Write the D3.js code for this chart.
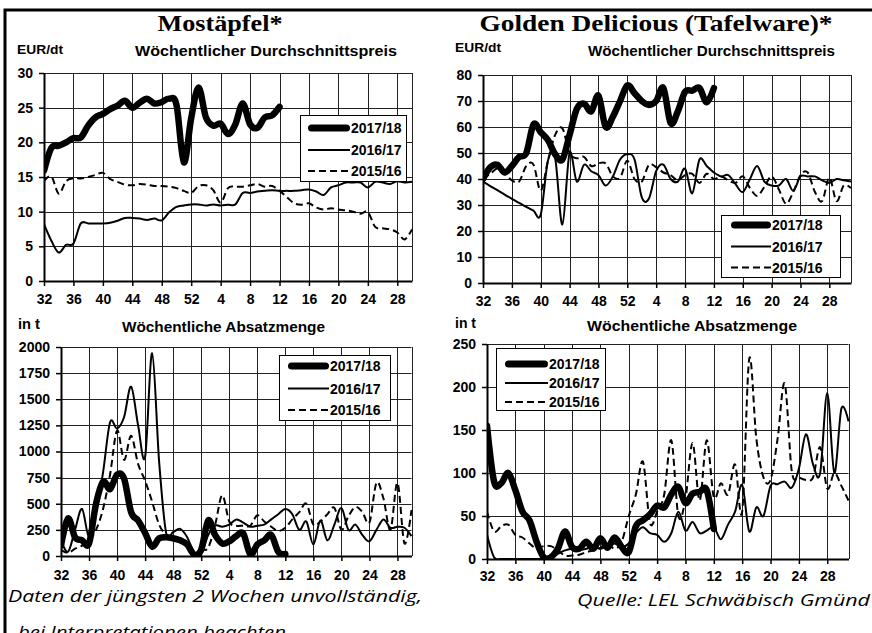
<!DOCTYPE html>
<html>
<head>
<meta charset="utf-8">
<script src="https://cdn.jsdelivr.net/npm/d3@7"></script>
<style>
body{margin:0;background:#fff;}
svg text{font-family:"Liberation Sans",Arial,sans-serif;}
</style>
</head>
<body>
<svg id="chart" width="872" height="633"></svg>
<script>
// weeks on the x axis (left panels to week 30, right panels to week 31)
var weeksLeft = [32,33,34,35,36,37,38,39,40,41,42,43,44,45,46,47,48,49,50,51,52,1,2,3,4,5,6,7,8,9,10,11,12,13,14,15,16,17,18,19,20,21,22,23,24,25,26,27,28,29,30];
var weeksRight = [32,33,34,35,36,37,38,39,40,41,42,43,44,45,46,47,48,49,50,51,52,1,2,3,4,5,6,7,8,9,10,11,12,13,14,15,16,17,18,19,20,21,22,23,24,25,26,27,28,29,30,31];
var seasons = ["2017/18","2016/17","2015/16"];

// Mostäpfel, Wöchentlicher Durchschnittspreis (EUR/dt)
var mostPreis1718 = [15.9,19.2,19.5,20.0,20.6,20.7,22.4,23.6,24.1,24.8,25.3,26.0,25.0,25.7,26.3,25.6,25.8,26.3,25.4,17.1,23.5,27.9,23.6,22.4,22.7,21.2,22.6,25.6,22.6,22.1,23.6,23.9,25.1];
var mostPreis1617 = [8.2,5.8,4.1,5.2,5.4,8.3,8.3,8.3,8.3,8.4,8.7,9.1,9.1,9.0,8.8,9.0,8.75,9.9,10.7,10.9,11.05,11.05,10.9,11.05,10.9,11.0,11.05,12.7,12.7,12.9,13.0,13.1,13.0,13.0,13.0,13.1,13.2,12.9,12.4,13.5,13.8,14.2,14.2,14.2,13.5,14.3,14.2,14.0,14.4,14.2,14.3];
var mostPreis1516 = [14.4,15.1,12.6,14.4,14.8,14.8,15.0,15.3,15.6,14.7,14.3,13.9,13.8,14.0,13.9,13.7,13.7,13.6,13.4,13.0,12.7,13.7,13.8,13.1,11.3,13.4,13.6,13.6,13.8,14.0,13.6,13.7,13.0,12.1,11.2,11.0,11.2,10.6,10.3,10.5,10.3,10.2,10.0,9.7,9.95,7.8,7.6,7.45,7.0,6.0,7.45];

// Golden Delicious, Wöchentlicher Durchschnittspreis (EUR/dt)
var goldPreis1718 = [40,44.5,45.5,42.5,45,48.5,50,61,58,55,49.5,47.5,57,67,69,66,72,60,64,70,76,73,70,68.5,70,75,61.5,66,73.5,74,75,69.5,75];
var goldPreis1617 = [39,37.3,35.7,34,32.4,30.8,29.3,27.8,26.3,47,48,22.5,50,39,45.5,43,41.5,37.5,41,47.5,49.5,47.5,33,32.5,43,45.5,40,39,44,34.5,47.5,45,42.5,41,41.5,38,35,40,45,39,37.5,37.5,40,35.5,41,41,41,39.5,38.5,40,39.5,39];
var goldPreis1516 = [40,42,44,42,39.5,39,45,45.5,35.5,47,57,59.5,50,48,48.5,45,46,46,41,40.5,47,40,39,45.5,44.5,42.5,41.5,39.5,41.5,42,38.5,42,40,41,39.5,38.5,41,36.5,33.5,37,41,36,30.5,35,41.5,42.5,35,31.5,40.5,31.5,37.5,36.5];

// Mostäpfel, Wöchentliche Absatzmenge (t)
var mostMenge1718 = [100,360,180,150,120,500,710,640,780,740,420,340,220,90,170,180,170,150,110,15,60,340,200,120,140,190,215,15,110,150,200,40,20];
var mostMenge1617 = [150,40,250,450,180,420,800,1280,1220,1330,1620,1250,950,1940,900,220,230,260,180,30,20,200,290,280,300,350,320,280,290,300,350,400,450,400,250,330,110,340,150,300,460,250,300,200,140,250,350,270,280,270,190];
var mostMenge1516 = [60,30,70,100,150,250,450,780,1200,920,1150,880,720,520,300,200,150,160,120,30,60,80,300,580,330,290,290,290,390,330,280,240,270,350,420,500,300,330,400,460,250,380,470,420,320,700,550,250,700,120,440];

// Golden Delicious, Wöchentliche Absatzmenge (t)
var goldMenge1718 = [155,90,88,100,80,55,45,20,2,2,12,32,14,12,20,12,24,13,25,14,8,38,45,52,62,60,75,84,65,76,78,80,35];
var goldMenge1617 = [28,2,0,0,0,0,0,0,0,2,6,10,12,10,12,14,12,15,18,14,18,30,37,30,28,20,30,55,33,43,30,33,37,23,40,55,86,32,60,50,85,87,90,83,105,145,110,100,193,100,175,160];
var goldMenge1516 = [55,32,38,40,28,25,18,12,15,15,10,4,4,5,8,10,13,18,12,20,50,75,113,42,55,75,138,50,70,135,68,138,72,88,75,110,55,233,140,95,92,140,204,102,95,92,95,130,82,100,85,68];

var svg = d3.select("#chart");

// outer frame (cut at right and bottom like the original)
svg.append("rect")
	.attr("x", 5).attr("y", 10)
	.attr("width", 920).attr("height", 700)
	.attr("fill", "none").attr("stroke", "#000").attr("stroke-width", 3);

var styles = [
	{w: 6.5, dash: null},
	{w: 2, dash: null},
	{w: 2, dash: "7,4"}
];

function bold(sel, size){
	sel.attr("font-family", "Liberation Sans, Arial, sans-serif")
		.attr("font-weight", "bold")
		.attr("font-size", size)
		.style("font-weight", "700")
		.style("font-size", size + "px");
	return sel;
}

function panel(o){
	var g = svg.append("g");
	var x = d3.scaleLinear().domain([0, o.xMax]).range([o.x0, o.x1]);
	var y = d3.scaleLinear().domain([0, o.yMax]).range([o.y1, o.y0]);
	var yTicks = d3.range(0, o.yMax + o.yStep / 2, o.yStep);
	var xTicks = d3.range(0, o.xMax - 1, 4);

	// grid
	g.selectAll(".hg").data(yTicks.slice(1)).enter().append("line")
		.attr("x1", o.x0).attr("x2", x(o.xMax))
		.attr("y1", function(d){ return Math.round(y(d)) + 0.5; })
		.attr("y2", function(d){ return Math.round(y(d)) + 0.5; })
		.attr("stroke", "#222").attr("stroke-width", 1);
	g.selectAll(".vg").data(xTicks.slice(1).concat([o.xMax])).enter().append("line")
		.attr("x1", function(d){ return Math.round(x(d)) + 0.5; })
		.attr("x2", function(d){ return Math.round(x(d)) + 0.5; })
		.attr("y1", y(o.yMax)).attr("y2", y(0))
		.attr("stroke", "#222").attr("stroke-width", 1);

	// series
	g.append("clipPath").attr("id", o.id)
		.append("rect")
		.attr("x", o.x0).attr("y", o.y0 - 1)
		.attr("width", o.x1 - o.x0 + 1).attr("height", o.y1 - o.y0 + 1);

	var line = d3.line()
		.x(function(d, i){ return x(i); })
		.y(function(d){ return y(d); })
		.curve(d3.curveCardinal.tension(0));

	[2, 1, 0].forEach(function(k){
		g.append("path")
			.datum(o.series[k])
			.attr("clip-path", "url(#" + o.id + ")")
			.attr("d", line)
			.attr("fill", "none")
			.attr("stroke", "#000")
			.attr("stroke-width", styles[k].w)
			.attr("stroke-linejoin", "round")
			.attr("stroke-linecap", k == 0 ? "round" : "butt")
			.attr("stroke-dasharray", styles[k].dash);
	});

	// axes
	var xa = g.append("g")
		.attr("transform", "translate(0," + o.y1 + ")")
		.call(d3.axisBottom(x).tickValues(xTicks)
			.tickFormat(function(i){ return o.weeks[i]; })
			.tickSize(5).tickSizeOuter(0).tickPadding(o.xPad));
	var ya = g.append("g")
		.attr("transform", "translate(" + o.x0 + ",0)")
		.call(d3.axisLeft(y).tickValues(yTicks)
			.tickFormat(d3.format("d"))
			.tickSize(5).tickSizeOuter(0).tickPadding(6));
	[xa, ya].forEach(function(a){
		a.select(".domain").attr("stroke-width", 2);
		a.selectAll(".tick line").attr("stroke-width", 1.5);
		bold(a.selectAll("text"), 14).attr("fill", "#000");
	});

	// legend
	var L = o.legend;
	var lg = g.append("g");
	lg.append("rect")
		.attr("x", L.x + 0.5).attr("y", L.y + 0.5)
		.attr("width", L.w).attr("height", L.h)
		.attr("fill", "#fff").attr("stroke", "#000").attr("stroke-width", 1);
	seasons.forEach(function(s, k){
		var cy = L.rows[k];
		lg.append("line")
			.attr("x1", L.lx0 + (k == 0 ? 3.5 : 0)).attr("x2", L.lx1 - (k == 0 ? 3.5 : 0))
			.attr("y1", cy).attr("y2", cy)
			.attr("stroke", "#000")
			.attr("stroke-width", k == 0 ? 7 : 2)
			.attr("stroke-linecap", k == 0 ? "round" : "butt")
			.attr("stroke-dasharray", styles[k].dash);
		bold(lg.append("text"), 14)
			.attr("x", L.lx1 + 1).attr("y", cy + 5)
			.text(s);
	});
}

function label(txt, x, y, size, len, anchor, extra){
	var t = bold(svg.append("text"), size)
		.attr("x", x).attr("y", y)
		.attr("text-anchor", anchor || "start")
		.text(txt);
	if (len) t.attr("textLength", len).attr("lengthAdjust", "spacingAndGlyphs");
	if (extra) extra(t);
	return t;
}

panel({
	id: "c1", x0: 44, x1: 412, y0: 73, y1: 281, xMax: 50, yMax: 30, yStep: 5, xPad: 8,
	weeks: weeksLeft, series: [mostPreis1718, mostPreis1617, mostPreis1516],
	legend: {x: 300, y: 115, w: 106, h: 66, rows: [128, 150, 171], lx0: 308, lx1: 350}
});
panel({
	id: "c2", x0: 483, x1: 851, y0: 75, y1: 283, xMax: 51, yMax: 80, yStep: 10, xPad: 8,
	weeks: weeksRight, series: [goldPreis1718, goldPreis1617, goldPreis1516],
	legend: {x: 721, y: 215, w: 119, h: 62, rows: [225, 246.5, 267.5], lx0: 731, lx1: 771}
});
panel({
	id: "c3", x0: 61, x1: 411.5, y0: 347, y1: 556, xMax: 50, yMax: 2000, yStep: 250, xPad: 9,
	weeks: weeksLeft, series: [mostMenge1718, mostMenge1617, mostMenge1516],
	legend: {x: 279, y: 355, w: 111, h: 65, rows: [366, 388.5, 410], lx0: 288, lx1: 329}
});
panel({
	id: "c4", x0: 487, x1: 848.5, y0: 344, y1: 559, xMax: 51, yMax: 250, yStep: 50, xPad: 7,
	weeks: weeksRight, series: [goldMenge1718, goldMenge1617, goldMenge1516],
	legend: {x: 496, y: 348, w: 109, h: 62, rows: [364, 383, 402], lx0: 505, lx1: 548}
});

// titles
function serif(t){
	t.attr("font-family", "Liberation Serif, Times New Roman, serif")
		.style("font-family", "'Liberation Serif','Times New Roman',serif");
}
label("Mostäpfel*", 220, 31, 23, 125, "middle", serif);
label("Golden Delicious (Tafelware)*", 656, 31, 23, 353, "middle", serif);

label("EUR/dt", 17, 54, 13, 46);
label("Wöchentlicher Durchschnittspreis", 135, 56, 15.5, 262);
label("EUR/dt", 455, 52, 13, 46);
label("Wöchentlicher Durchschnittspreis", 588, 56, 15.5, 247);
label("in t", 18, 329, 14, 22);
label("Wöchentliche Absatzmenge", 122, 332, 15.5, 203);
label("in t", 455, 328, 14, 21);
label("Wöchentliche Absatzmenge", 587, 331, 15.5, 210);

// footer notes
function note(t){
	t.attr("font-family", "Open Sans, Noto Sans, sans-serif")
		.style("font-family", "'Open Sans','Noto Sans',sans-serif")
		.attr("font-weight", "normal")
		.style("font-weight", "400").style("font-style", "italic");
}
label("Daten der jüngsten 2 Wochen unvollständig,", 8, 602, 17, 414, "start", note);
label("bei Interpretationen beachten", 18, 638, 17, 268, "start", note);
label("Quelle: LEL Schwäbisch Gmünd", 577, 606, 17, 293, "start", note);
</script>
</body>
</html>
